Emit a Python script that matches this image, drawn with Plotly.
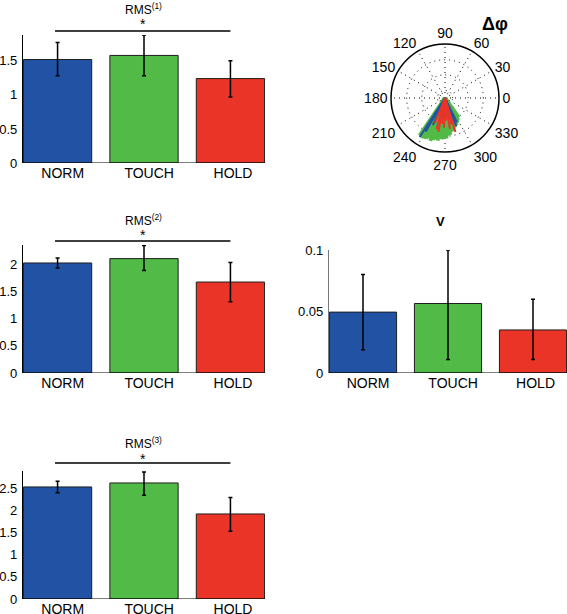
import plotly.graph_objects as go

W, H = 567, 614

categories = ["NORM", "TOUCH", "HOLD"]
colors = ["rgb(33,82,163)", "rgb(82,186,70)", "rgb(234,52,40)"]

rms1 = [1.52, 1.58, 1.24]
rms1_hi = [1.77, 1.88, 1.50]
rms1_lo = [1.28, 1.28, 0.97]

rms2 = [2.02, 2.10, 1.67]
rms2_hi = [2.11, 2.34, 2.03]
rms2_lo = [1.93, 1.88, 1.31]

rms3 = [2.53, 2.62, 1.92]
rms3_hi = [2.66, 2.87, 2.29]
rms3_lo = [2.40, 2.34, 1.53]

v_vals = [0.0495, 0.0565, 0.035]
v_hi = [0.080, 0.100, 0.060]
v_lo = [0.019, 0.011, 0.011]

# compass (phase difference) vectors: angle in degrees, length relative to rmax
green_theta = [236, 239, 242, 245, 248, 251, 254, 257, 260, 263, 266, 269, 272, 275, 278, 281, 285, 289, 293, 297, 301, 305]
green_r = [0.84, 0.86, 0.85, 0.83, 0.80, 0.84, 0.81, 0.78, 0.80, 0.76, 0.77, 0.74, 0.75, 0.70, 0.69, 0.64, 0.63, 0.58, 0.55, 0.52, 0.48, 0.44]
red_theta = [248, 255, 259, 264, 268, 273, 279, 284, 287]
red_r = [0.50, 0.60, 0.64, 0.48, 0.55, 0.42, 0.58, 0.50, 0.66]
blue_theta = [237, 240, 246, 256, 262, 292, 296]
blue_r = [0.86, 0.72, 0.55, 0.45, 0.36, 0.56, 0.50]

FONT = "Liberation Sans, Arial, sans-serif"

fig = go.Figure()

def px2x(p):
    return p / W

def px2y(p):
    return 1 - p / H

panels = [
    (rms1, rms1_hi, rms1_lo, "x", "y", (23, 265), (35, 163), [0, 1.88], 0.5),
    (rms2, rms2_hi, rms2_lo, "x2", "y2", (23, 265), (245, 373), [0, 2.35], 0.5),
    (rms3, rms3_hi, rms3_lo, "x3", "y3", (23, 265), (471, 599), [0, 2.89], 0.5),
    (v_vals, v_hi, v_lo, "x4", "y4", (329, 567), (250, 373), [0, 0.1], 0.05),
]

LABEL_SHIFT = 0  # px below the plot bottom where the (invisible) category axis sits

layout_axes = {}
for i, (vals, hi, lo, xa, ya, xd, yd, yr, dt) in enumerate(panels):
    fig.add_trace(go.Bar(
        x=[0, 1, 2], y=vals, width=0.79,
        marker=dict(color=colors, line=dict(color="rgb(30,30,30)", width=1)),
        error_y=dict(type="data", symmetric=False,
                     array=[h - v for h, v in zip(hi, vals)],
                     arrayminus=[v - l for v, l in zip(vals, lo)],
                     color="black", thickness=1.5, width=2),
        xaxis=xa, yaxis=ya, showlegend=False, hoverinfo="skip",
    ))
    xk = "xaxis" if xa == "x" else "xaxis" + xa[1:]
    yk = "yaxis" if ya == "y" else "yaxis" + ya[1:]
    layout_axes[xk] = dict(
        domain=[px2x(xd[0]), px2x(xd[1])], anchor="free",
        position=px2y(yd[1] + LABEL_SHIFT), range=[-0.4, 2.4],
        tickvals=[0.06, 1.06, 2.03], ticktext=categories, ticks="",
        showline=False, showgrid=False, zeroline=False,
        tickfont=dict(family=FONT, size=14, color="black"), fixedrange=True,
        automargin=False,
    )
    layout_axes[yk] = dict(
        domain=[px2y(yd[1]), px2y(yd[0])], anchor=xa, range=yr, dtick=dt,
        ticks="", showline=True,
        linecolor="black" if i < 3 else "rgb(120,120,120)",
        linewidth=1.2, showgrid=False, zeroline=False,
        tickfont=dict(family=FONT, size=13, color="black"), fixedrange=True,
        ticklabelstandoff=2, automargin=False,
    )
    # bottom axis line at y = 0
    fig.add_shape(type="line", xref=f"{xa} domain", yref=ya, x0=0, x1=1, y0=0, y1=0,
                  line=dict(color="black", width=1.2))

def compass(theta, r):
    th, rr = [], []
    for t, v in zip(theta, r):
        th += [t, t, None]
        rr += [0, v, None]
    return th, rr

for th_list, r_list, col, wdt in [(green_theta, green_r, colors[1], 4),
                                  (blue_theta, blue_r, colors[0], 2),
                                  (red_theta, red_r, colors[2], 2)]:
    th, rr = compass(th_list, r_list)
    fig.add_trace(go.Scatterpolar(theta=th, r=rr, mode="lines",
                                  line=dict(color=col, width=wdt),
                                  showlegend=False, hoverinfo="skip",
                                  connectgaps=False))

fig.update_layout(
    width=W, height=H, margin=dict(l=0, r=0, t=0, b=0, autoexpand=False),
    paper_bgcolor="white", plot_bgcolor="white",
    polar=dict(
        domain=dict(x=[px2x(391), px2x(499)], y=[px2y(152), px2y(44)]),
        bgcolor="white",
        angularaxis=dict(direction="counterclockwise", rotation=0,
                         tickvals=list(range(0, 360, 30)),
                         ticktext=[str(a) for a in range(0, 360, 30)],
                         ticks="", showline=True, linecolor="black", linewidth=1.5,
                         showgrid=True, gridcolor="black", griddash="1px,4px", gridwidth=1,
                         tickfont=dict(family=FONT, size=14, color="black")),
        radialaxis=dict(range=[0, 1], tickvals=[0.14, 0.43, 0.71], showticklabels=False,
                        ticks="", showline=False, showgrid=True, gridcolor="black",
                        griddash="1px,4px", gridwidth=1),
    ),
    **layout_axes,
)

# (xaxis, line y px, star box bottom px, title box bottom px, title)
sig = [("x", 31, 34, 19, "RMS<sup>(1)</sup>"),
       ("x2", 241, 245, 230, "RMS<sup>(2)</sup>"),
       ("x3", 463, 469, 453, "RMS<sup>(3)</sup>")]
for xa, ly, sy, ty, title in sig:
    fig.add_shape(type="line", xref=xa, yref="paper", x0=-0.03, x1=2.0,
                  y0=px2y(ly), y1=px2y(ly), line=dict(color="black", width=1.5))
    fig.add_annotation(xref=xa, yref="paper", x=0.99, y=px2y(sy), yanchor="bottom",
                       text="*", showarrow=False,
                       font=dict(family=FONT, size=14, color="black"))
    fig.add_annotation(xref=xa, yref="paper", x=0.99, y=px2y(ty), yanchor="bottom",
                       text=title, showarrow=False,
                       font=dict(family=FONT, size=12, color="black"))

fig.add_annotation(xref="paper", yref="paper", x=px2x(447), y=px2y(222), text="<b>V</b>",
                   showarrow=False, font=dict(family=FONT, size=13, color="black"))
fig.add_annotation(xref="paper", yref="paper", x=px2x(510), y=px2y(12), text="<b>Δφ</b>",
                   showarrow=False, font=dict(family=FONT, size=18, color="black"))

fig.write_html("out.html", config={"displayModeBar": False},
               post_script="document.body.style.margin='0';document.body.style.overflow='hidden';")
